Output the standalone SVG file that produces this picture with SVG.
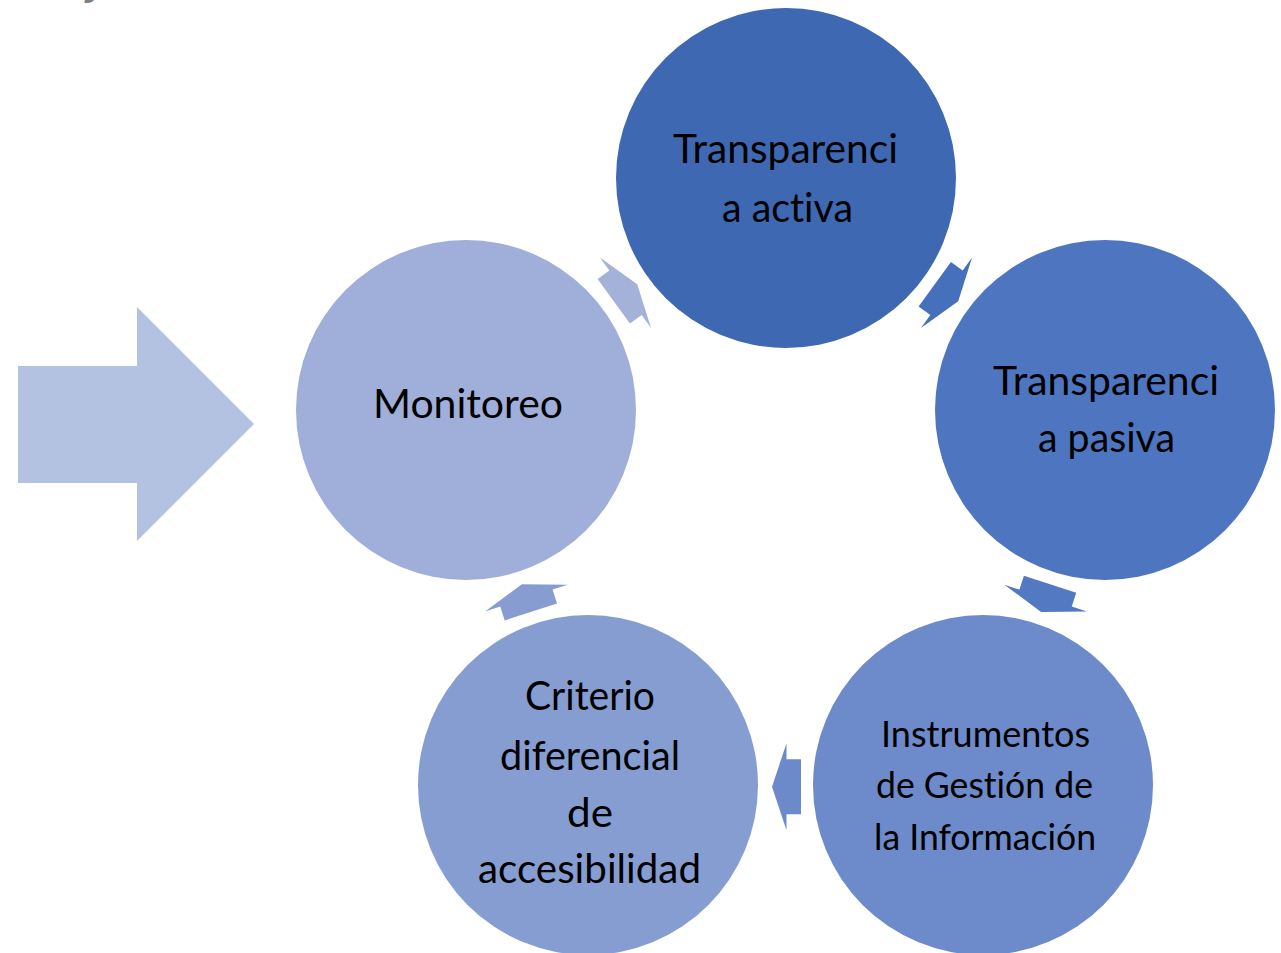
<svg xmlns="http://www.w3.org/2000/svg" xmlns:xlink="http://www.w3.org/1999/xlink" width="1281" height="953" viewBox="0 0 1281 953">
  <style>
    .lbl { font-family: Lato, "Liberation Sans", sans-serif; font-size: 41px; fill: #000000; text-anchor: middle; font-variant-ligatures: none; font-feature-settings: "liga" 0, "clig" 0; }
    .sm { font-size: 37px; }
  </style>
  <defs>
    <polygon id="cyc-arrow" points="-14.5,-27.5 0,-27.5 0,-43.5 14.5,0 0,43.5 0,27.5 -14.5,27.5"/>
  </defs>
  <rect width="1281" height="953" fill="#ffffff"/>
  <text x="86" y="-5" style="font-family: 'Liberation Sans', sans-serif; font-size: 40px; font-weight: bold; font-style: italic; fill: #7f7f7f;">y</text>

  <g id="input-arrow">
    <polygon points="18,366 137,366 137,307 254,424 137,541 137,483 18,483" fill="#b4c2e2"/>
  </g>

  <g id="connectors">
    <use xlink:href="#cyc-arrow" href="#cyc-arrow" transform="translate(625.5,292.8) rotate(-36)" fill="#a4b2da"/>
    <use xlink:href="#cyc-arrow" href="#cyc-arrow" transform="translate(946.5,292.8) rotate(36)" fill="#4670bc"/>
    <use xlink:href="#cyc-arrow" href="#cyc-arrow" transform="translate(1045.6,598.1) rotate(108)" fill="#5379c2"/>
    <use xlink:href="#cyc-arrow" href="#cyc-arrow" transform="translate(786.5,786.7) rotate(180)" fill="#6c8aca"/>
    <use xlink:href="#cyc-arrow" href="#cyc-arrow" transform="translate(526.4,598.1) rotate(252)" fill="#879dd2"/>
  </g>

  <g id="node-activa">
    <circle cx="786" cy="178" r="170" fill="#3e68b1"/>
    <text class="lbl" x="785.5" y="163" textLength="225" lengthAdjust="spacingAndGlyphs">Transparenci</text>
    <text class="lbl" x="787.5" y="222" textLength="131" lengthAdjust="spacingAndGlyphs">a activa</text>
  </g>

  <g id="node-pasiva">
    <circle cx="1105" cy="410" r="170" fill="#4e76c0"/>
    <text class="lbl" x="1106" y="395" textLength="226" lengthAdjust="spacingAndGlyphs">Transparenci</text>
    <text class="lbl" x="1106.5" y="452" textLength="137" lengthAdjust="spacingAndGlyphs">a pasiva</text>
  </g>

  <g id="node-instrumentos">
    <circle cx="983" cy="785" r="170" fill="#6d8aca"/>
    <text class="lbl sm" x="985.5" y="747" textLength="209" lengthAdjust="spacingAndGlyphs">Instrumentos</text>
    <text class="lbl sm" x="984.5" y="798" textLength="217" lengthAdjust="spacingAndGlyphs">de Gestión de</text>
    <text class="lbl sm" x="985" y="850" textLength="222" lengthAdjust="spacingAndGlyphs">la Información</text>
  </g>

  <g id="node-criterio">
    <circle cx="588" cy="785" r="170" fill="#869dd2"/>
    <text class="lbl" x="590" y="710" textLength="130" lengthAdjust="spacingAndGlyphs">Criterio</text>
    <text class="lbl" x="590" y="770" textLength="180" lengthAdjust="spacingAndGlyphs">diferencial</text>
    <text class="lbl" x="590" y="827" textLength="46" lengthAdjust="spacingAndGlyphs">de</text>
    <text class="lbl" x="589.5" y="883" textLength="223" lengthAdjust="spacingAndGlyphs">accesibilidad</text>
  </g>

  <g id="node-monitoreo">
    <circle cx="466" cy="410" r="170" fill="#a0afd9"/>
    <text class="lbl" x="468" y="418" textLength="190" lengthAdjust="spacingAndGlyphs">Monitoreo</text>
  </g>
</svg>
